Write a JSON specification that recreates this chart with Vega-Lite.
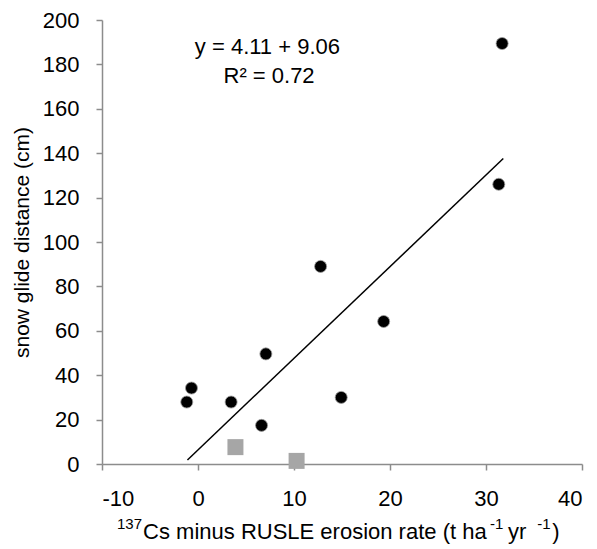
{
  "$schema": "https://vega.github.io/schema/vega-lite/v6.json",
  "width": 480,
  "height": 444,
  "autosize": "none",
  "padding": {"left": 102, "top": 20, "right": 15, "bottom": 85},
  "background": "white",
  "config": {
    "view": {"stroke": null},
    "font": "Liberation Sans",
    "axis": {
      "grid": false,
      "domainColor": "#8c8c8c",
      "tickColor": "#8c8c8c",
      "domainWidth": 1.5,
      "tickWidth": 1.5,
      "tickSize": 6,
      "labelFont": "Liberation Sans",
      "labelFontSize": 22,
      "labelColor": "#000000",
      "titleFont": "Liberation Sans",
      "titleFontWeight": "normal",
      "titleColor": "#000000"
    }
  },
  "datasets": {
    "circles": [
      {"x": -1.17, "y": 27.9},
      {"x": -0.68, "y": 34.2},
      {"x": 3.45, "y": 27.9},
      {"x": 6.62, "y": 17.4},
      {"x": 7.07, "y": 49.6},
      {"x": 12.77, "y": 89.0},
      {"x": 14.92, "y": 30.0},
      {"x": 19.34, "y": 64.2},
      {"x": 31.33, "y": 126.0},
      {"x": 31.68, "y": 189.4}
    ],
    "squares": [
      {"x": 3.9, "y": 7.6},
      {"x": 10.27, "y": 1.4}
    ],
    "fit": [
      {"x": -1.1, "y": 1.8},
      {"x": 31.8, "y": 137.6}
    ],
    "notes": [
      {"x": 7.23, "y": 187.8, "label": "y = 4.11 + 9.06"},
      {"x": 7.4, "y": 174.7, "label": "R² = 0.72"}
    ],
    "xtitle_main": [
      {"x": -5.72, "y": -33.6, "label": "Cs minus RUSLE erosion rate (t ha"},
      {"x": 32.3, "y": -33.6, "label": "yr"},
      {"x": 36.9, "y": -33.6, "label": ")"}
    ],
    "xtitle_sup": [
      {"x": -8.44, "y": -29.3, "label": "137"},
      {"x": 30.42, "y": -29.3, "label": "-1"},
      {"x": 35.33, "y": -29.3, "label": "-1"}
    ]
  },
  "layer": [
    {
      "data": {"name": "fit"},
      "mark": {"type": "line", "color": "#000000", "strokeWidth": 1.5},
      "encoding": {
        "x": {
          "field": "x", "type": "quantitative",
          "scale": {"domain": [-10, 40], "nice": false, "zero": false},
          "axis": {
            "values": [-10, 0, 10, 20, 30, 40],
            "labelPadding": 18,
            "labelExpr": "toString(datum.value)",
            "title": null
          }
        },
        "y": {
          "field": "y", "type": "quantitative",
          "scale": {"domain": [0, 200], "nice": false},
          "axis": {
            "values": [0, 20, 40, 60, 80, 100, 120, 140, 160, 180, 200],
            "labelPadding": 17,
            "title": "snow glide distance (cm)",
            "titleFontSize": 21,
            "titleBaseline": "alphabetic",
            "titleX": -74
          }
        }
      }
    },
    {
      "data": {"name": "squares"},
      "mark": {"type": "point", "shape": "square", "filled": true, "color": "#a6a6a6", "opacity": 1, "size": 256},
      "encoding": {
        "x": {"field": "x", "type": "quantitative"},
        "y": {"field": "y", "type": "quantitative"}
      }
    },
    {
      "data": {"name": "circles"},
      "mark": {"type": "circle", "color": "#000000", "opacity": 1, "size": 145, "stroke": "#9a9a9a", "strokeWidth": 0.8},
      "encoding": {
        "x": {"field": "x", "type": "quantitative"},
        "y": {"field": "y", "type": "quantitative"}
      }
    },
    {
      "data": {"name": "notes"},
      "mark": {"type": "text", "fontSize": 22, "font": "Liberation Sans", "color": "#000000", "align": "center", "baseline": "middle"},
      "encoding": {
        "x": {"field": "x", "type": "quantitative"},
        "y": {"field": "y", "type": "quantitative"},
        "text": {"field": "label"}
      }
    },
    {
      "data": {"name": "xtitle_main"},
      "mark": {"type": "text", "fontSize": 22, "font": "Liberation Sans", "color": "#000000", "align": "left", "baseline": "alphabetic"},
      "encoding": {
        "x": {"field": "x", "type": "quantitative"},
        "y": {"field": "y", "type": "quantitative"},
        "text": {"field": "label"}
      }
    },
    {
      "data": {"name": "xtitle_sup"},
      "mark": {"type": "text", "fontSize": 15, "font": "Liberation Sans", "color": "#000000", "align": "left", "baseline": "alphabetic"},
      "encoding": {
        "x": {"field": "x", "type": "quantitative"},
        "y": {"field": "y", "type": "quantitative"},
        "text": {"field": "label"}
      }
    }
  ]
}
